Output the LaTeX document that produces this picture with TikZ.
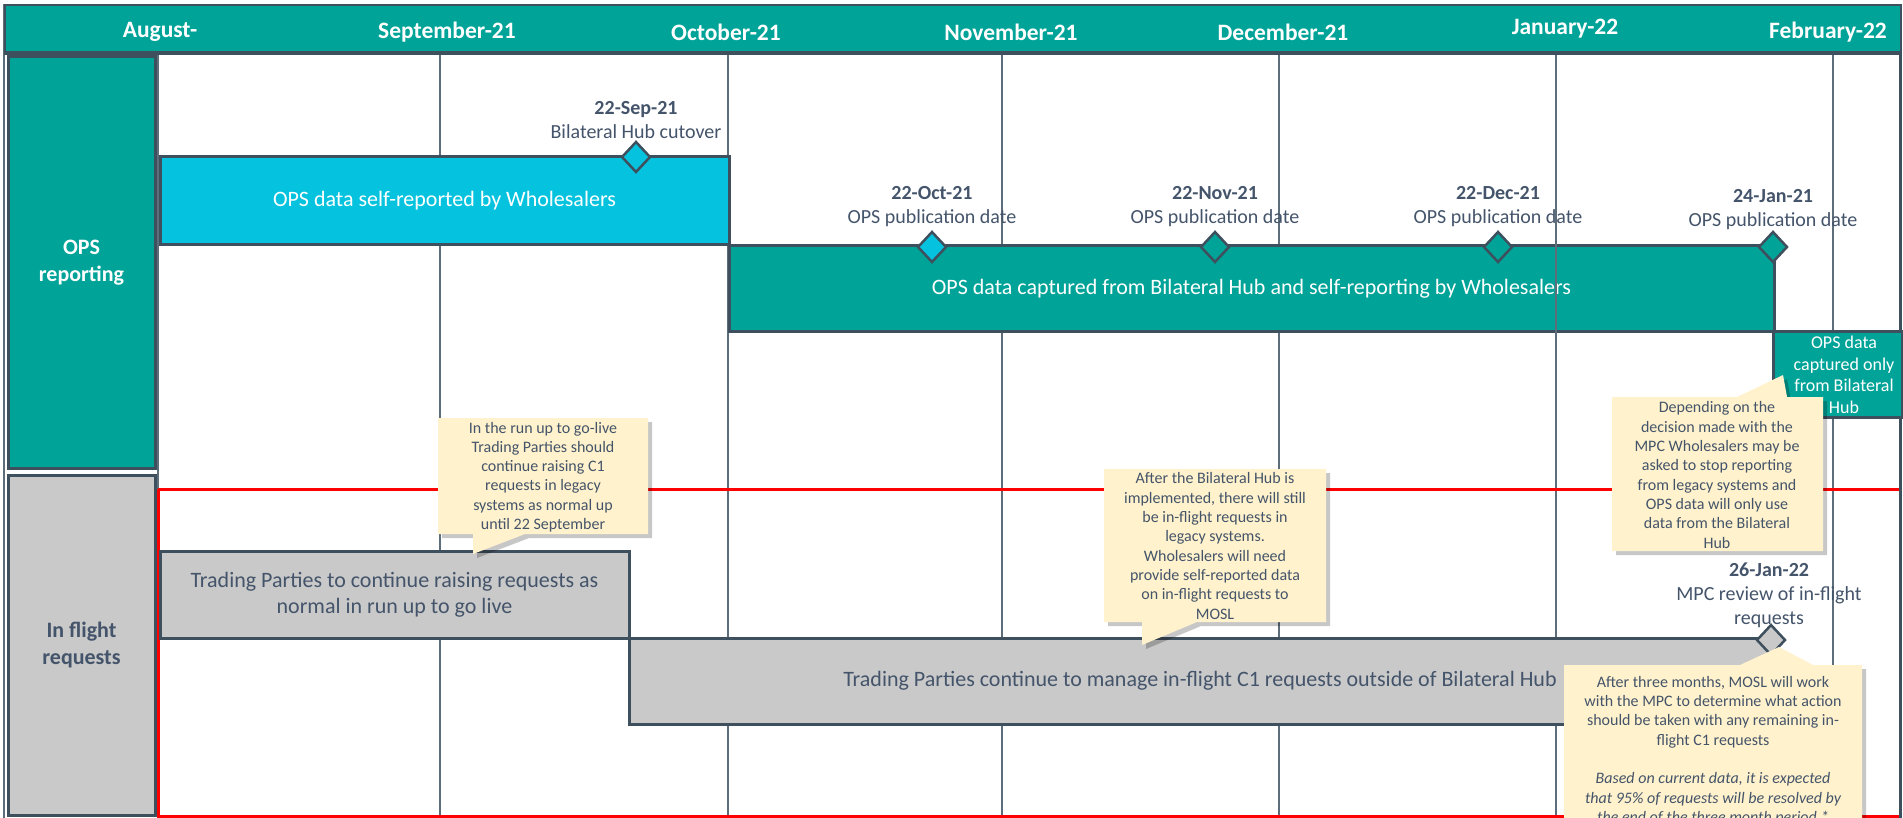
\documentclass[tikz,border=0pt]{standalone}
\usepackage{fontspec}
\setmainfont{Carlito}
\usetikzlibrary{shapes.geometric}
\definecolor{tealA}{HTML}{00A398}
\definecolor{cyanA}{HTML}{05C3DE}
\definecolor{slateT}{HTML}{44546A}
\definecolor{edgeC}{HTML}{3E4F5D}
\definecolor{gridC}{HTML}{5E6D7A}
\definecolor{greyB}{HTML}{C9C9C9}
\definecolor{noteC}{HTML}{FFF2CC}
\tikzset{
  hdrtxt/.style={text=white, inner sep=0pt, font=\fontsize{23.5}{28}\selectfont\bfseries},
  gridline/.style={draw=gridC, line width=1.4pt},
  barbox/.style={draw=edgeC, line width=3pt, inner sep=0pt, align=center, font=\fontsize{22}{26.5}\selectfont},
  lanebox/.style={draw=edgeC, line width=3pt, inner sep=0pt, align=center, minimum width=147pt, font=\fontsize{22}{27}\selectfont\bfseries},
  milestone/.style={diamond, draw=edgeC, line width=2.5pt, minimum width=29pt, minimum height=31pt, inner sep=0pt},
  datelbl/.style={text=slateT, align=center, inner sep=0pt, font=\fontsize{20}{24}\selectfont},
  notebox/.style={fill=noteC, preaction={fill=black, opacity=0.22, transform canvas={shift={(4pt,-4pt)}}}},
  notetxt/.style={text=slateT, align=center, inner sep=0pt, font=\fontsize{16}{19.3}\selectfont},
}
\begin{document}
\begin{tikzpicture}[x=1pt,y=-1pt]
\useasboundingbox (0,0) rectangle (1903,818);
\clip (0,0) rectangle (1903,818);
% month grid lines
\foreach \gx in {440,728,1002,1279,1556,1833} \draw[gridline] (\gx,52) -- (\gx,818);
\draw[gridC, line width=1.2pt] (158,52) -- (158,818);
% in-flight frame
\draw[red, line width=3pt] (158,489) -- (1899,489) (158,489) -- (158,816) -- (1899,816);
% outer frame
\draw[gridC, line width=1.5pt] (4,4) -- (4,818);
\draw[edgeC, line width=3pt] (1900,4) -- (1900,818);
% header
\node[draw=edgeC, fill=tealA, line width=2pt, minimum width=1896pt, minimum height=47pt, inner sep=0pt, anchor=north west] (hdr) at (4,4) {};
\draw[edgeC, line width=4pt] (hdr.south west) -- (hdr.south east);
\node[hdrtxt] (m0) at (160,32) {August-};
\node[hdrtxt] (m1) at (447,32) {September-21};
\node[hdrtxt] (m2) at (726,32) {October-21};
\node[hdrtxt] (m3) at (1011,32) {November-21};
\node[hdrtxt] (m4) at (1283,32) {December-21};
\node[hdrtxt] (m5) at (1565,29) {January-22};
\node[hdrtxt] (m6) at (1828,32) {February-22};
% lane labels
\node[lanebox, fill=tealA, text=white, minimum height=411pt] (lane1) at (81.5,262.5) {OPS\\reporting};
\node[lanebox, fill=greyB, text=slateT, minimum height=340pt] (lane2) at (81.5,645) {In flight\\requests};
% bars
\node[barbox, fill=cyanA, text=white, minimum width=569pt, minimum height=88pt] (b1) at (444.5,201) {OPS data self-reported by Wholesalers};
\node[barbox, fill=tealA, text=white, minimum width=1045pt, minimum height=85pt] (b2) at (1251.5,288.5) {OPS data captured from Bilateral Hub and self-reporting by Wholesalers};
\draw[gridline] (1556,0 |- b2.north) -- (1556,0 |- b2.south);
\node[barbox, fill=tealA, minimum width=129pt, minimum height=86pt] (b3) at (1837.5,374) {};
\node[text=white, align=center, inner sep=0pt, font=\fontsize{18}{21.5}\selectfont] (b3t) at (1844,375) {OPS data\\captured only\\from Bilateral\\Hub};
\node[barbox, fill=greyB, text=slateT, minimum width=469pt, minimum height=87pt] (b4) at (394.5,594.5) {Trading Parties to continue raising requests as\\normal in run up to go live};
\node[barbox, fill=greyB, text=slateT, minimum width=1142pt, minimum height=86pt] (b5) at (1200,681) {Trading Parties continue to manage in-flight C1 requests outside of Bilateral Hub};
% milestones
\node[milestone, fill=cyanA] (d1) at (636,157) {};
\node[milestone, fill=cyanA] (d2) at (932,247) {};
\node[milestone, fill=tealA] (d3) at (1215,247) {};
\node[milestone, fill=tealA] (d4) at (1498,247) {};
\node[milestone, fill=tealA] (d5) at (1773,247) {};
\node[milestone, fill=greyB] (d6) at (1771,640) {};
% milestone labels
\node[datelbl] (t1) at (636,120) {\textbf{22-Sep-21}\\Bilateral Hub cutover};
\node[datelbl] (t2) at (932,207) {\textbf{22-Oct-21}\\OPS publication date};
\node[datelbl] (t3) at (1215,207) {\textbf{22-Nov-21}\\OPS publication date};
\node[datelbl] (t4) at (1498,207) {\textbf{22-Dec-21}\\OPS publication date};
\node[datelbl] (t5) at (1773,210) {\textbf{24-Jan-21}\\OPS publication date};
\node[datelbl] (t6) at (1769,595) {\textbf{26-Jan-22}\\MPC review of in-flight\\requests};
% callouts
\path[notebox] (438,418) -- (648,418) -- (648,534) -- (525,534) -- (473,554) -- (473,534) -- (438,534) -- cycle;
\node[notetxt] (n1) at (543,477) {In the run up to go-live\\Trading Parties should\\continue raising C1\\requests in legacy\\systems as normal up\\until 22 September};
\path[notebox] (1104,469) -- (1326,469) -- (1326,622) -- (1197,622) -- (1142,645) -- (1142,622) -- (1104,622) -- cycle;
\node[notetxt] (n2) at (1215,546) {After the Bilateral Hub is\\implemented, there will still\\be in-flight requests in\\legacy systems.\\Wholesalers will need\\provide self-reported data\\on in-flight requests to\\MOSL};
\path[notebox] (1612,397) -- (1737,397) -- (1783,375) -- (1787,397) -- (1823,397) -- (1823,551) -- (1612,551) -- cycle;
\node[notetxt] (n3) at (1717,475) {Depending on the\\decision made with the\\MPC Wholesalers may be\\asked to stop reporting\\from legacy systems and\\OPS data will only use\\data from the Bilateral\\Hub};
\path[notebox] (1564,665) -- (1740,665) -- (1779,647) -- (1813,665) -- (1862,665) -- (1862,840) -- (1564,840) -- cycle;
\node[notetxt, anchor=north] (n4) at (1713,676) {After three months, MOSL will work\\with the MPC to determine what action\\should be taken with any remaining in-\\flight C1 requests\\[19.3pt]\itshape Based on current data, it is expected\\\itshape that 95\% of requests will be resolved by\\\itshape the end of the three month period.*};
\end{tikzpicture}
\end{document}
